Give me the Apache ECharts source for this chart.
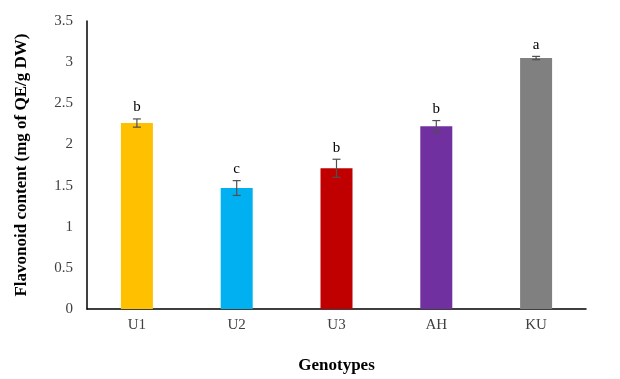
<!DOCTYPE html>
<html><head><meta charset="utf-8">
<script src="https://cdn.jsdelivr.net/npm/echarts@6/dist/echarts.min.js"></script>
<style>html,body{margin:0;padding:0;background:#fff}#c{width:620px;height:379px}</style>
</head><body><div id="c"></div>
<script>
var categories = ['U1','U2','U3','AH','KU'];
var values = [2.26, 1.47, 1.71, 2.22, 3.05];
var errors = [0.05, 0.09, 0.11, 0.07, 0.02];
var letters = ['b','c','b','b','a'];
var colors = ['#FFC000','#00B0F0','#C00000','#7030A0','#808080'];
var yTicks = [0, 0.5, 1, 1.5, 2, 2.5, 3, 3.5];

var serif = '"Liberation Serif","Times New Roman",serif';
var chart = echarts.init(document.getElementById('c'));
chart.setOption({
  animation: false,
  grid: {left: 87, right: 34, top: 21, bottom: 65},
  xAxis: {
    type: 'category', data: categories,
    name: 'Genotypes', nameLocation: 'middle', nameGap: 48,
    nameTextStyle: {fontFamily: serif, fontWeight: 'bold', fontSize: 17, color: '#000'},
    axisLine: {lineStyle: {color: '#000', width: 1.5}},
    axisTick: {show: false},
    axisLabel: {fontFamily: serif, fontSize: 15, color: '#404040', margin: 9}
  },
  yAxis: {
    type: 'value', min: 0, max: 3.5, interval: 0.5,
    name: 'Flavonoid content (mg of QE/g DW)', nameLocation: 'middle', nameGap: 57,
    nameTextStyle: {fontFamily: serif, fontWeight: 'bold', fontSize: 17, color: '#000'},
    axisLine: {show: true, lineStyle: {color: '#000', width: 1.5}},
    axisTick: {show: false},
    splitLine: {show: false},
    axisLabel: {fontFamily: serif, fontSize: 15, color: '#404040', margin: 14,
      formatter: function(v){ return yTicks.indexOf(v) >= 0 ? String(v) : ''; }}
  },
  series: [{
    type: 'bar', barWidth: 32,
    data: values.map(function(v, i){ return {value: v, itemStyle: {color: colors[i]}}; })
  }, {
    type: 'custom',
    data: values.map(function(v, i){ return [i, v, errors[i], letters[i]]; }),
    renderItem: function(params, api){
      var x = api.value(0), v = api.value(1), e = api.value(2);
      var hi = api.coord([x, v + e]);
      var lo = api.coord([x, v - e]);
      var hw = 4;
      var st = {stroke: '#505050', lineWidth: 1.2};
      return {type: 'group', children: [
        {type: 'line', shape: {x1: hi[0], y1: hi[1], x2: lo[0], y2: lo[1]}, style: st},
        {type: 'line', shape: {x1: hi[0]-hw, y1: hi[1], x2: hi[0]+hw, y2: hi[1]}, style: st},
        {type: 'line', shape: {x1: lo[0]-hw, y1: lo[1], x2: lo[0]+hw, y2: lo[1]}, style: st},
        {type: 'text', style: {text: letters[params.dataIndex], x: hi[0], y: hi[1] - 4,
          textAlign: 'center', textVerticalAlign: 'bottom',
          font: '15px ' + serif, fill: '#000'}}
      ]};
    },
    z: 5
  }]
});
</script></body></html>
